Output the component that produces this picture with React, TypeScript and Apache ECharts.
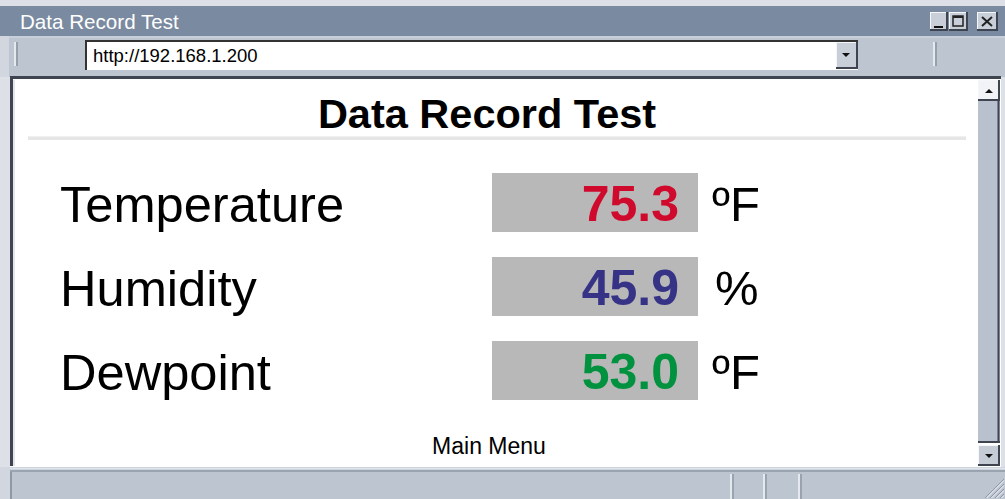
import React, { useEffect, useRef } from 'react';
import * as echarts from 'echarts';

// ---- content data ----
const windowTitle = 'Data Record Test';
const pageTitle = 'Data Record Test';
const url = 'http://192.168.1.200';
const labels = ['Temperature', 'Humidity', 'Dewpoint'];
const values = [75.3, 45.9, 53.0];
const units = ['ºF', '%', 'ºF'];
const valueColors = ['#CF0A2C', '#363387', '#00923F'];
const footerLink = 'Main Menu';
const statusSeparators = [731, 764, 799];

const W = 1005;
const H = 499;
const FONT = '"Liberation Sans", Arial, Helvetica, sans-serif';

const DARK = '#3E4550';
const BAR = '#BDC5D1';

function rect(x: number, y: number, w: number, h: number, fill: string, z = 1): any {
  return { type: 'rect', z, shape: { x, y, width: w, height: h }, style: { fill } };
}
function line(x1: number, y1: number, x2: number, y2: number, stroke: string, lw = 1, z = 2): any {
  return { type: 'line', z, shape: { x1, y1, x2, y2 }, style: { stroke, lineWidth: lw } };
}
function text(t: string, x: number, y: number, size: number, fill: string, align = 'left', weight = 'normal', z = 5): any {
  return {
    type: 'text', z, x, y,
    style: {
      text: t, fill, fontSize: size, fontFamily: FONT, fontWeight: weight,
      textAlign: align, textVerticalAlign: 'middle',
    },
  };
}
function tri(cx: number, cy: number, down: boolean, z = 4): any {
  const h = 4, w = 4;
  const pts = down
    ? [[cx - w, cy - h / 2], [cx + w, cy - h / 2], [cx, cy + h / 2]]
    : [[cx - w, cy + h / 2], [cx + w, cy + h / 2], [cx, cy - h / 2]];
  return { type: 'polygon', z, shape: { points: pts }, style: { fill: '#111' } };
}
function button(x: number, y: number, w: number, h: number, fill: string): any[] {
  return [
    rect(x, y, w, h, fill, 3),
    line(x, y + 0.5, x + w, y + 0.5, '#F4F6F9', 1, 4),
    line(x + 0.5, y, x + 0.5, y + h, '#F4F6F9', 1, 4),
    line(x + w - 1, y, x + w - 1, y + h, DARK, 2, 4),
    line(x, y + h - 1, x + w, y + h - 1, DARK, 2, 4),
  ];
}

function buildGraphics(): any[] {
  const g: any[] = [];
  // page background
  g.push(rect(0, 0, W, H, '#DDE1E7', 0));
  // title bar
  g.push(rect(0, 6, W, 30, '#7A8AA0', 1));
  g.push(text(windowTitle, 20, 21, 20.6, '#FFFFFF'));
  // window buttons
  g.push(...button(930, 12, 18, 19, '#C9CFD8'));
  g.push(line(934, 27, 943, 27, '#111', 2, 5));
  g.push(...button(949, 12, 19, 19, '#C9CFD8'));
  g.push({ type: 'rect', z: 5, shape: { x: 953, y: 16, width: 10, height: 10 }, style: { fill: 'none', stroke: '#222', lineWidth: 1.5 } });
  g.push(line(953, 17, 963, 17, '#222', 2, 5));
  g.push(...button(977, 12, 21, 19, '#C9CFD8'));
  g.push(line(982, 17, 992, 26, '#222', 2, 5));
  g.push(line(992, 17, 982, 26, '#222', 2, 5));

  // toolbar
  g.push(rect(0, 36, W, 41, BAR, 1));
  g.push(line(0, 37, W, 37, '#D3D9E2', 1, 2));
  g.push(rect(0, 36, 9, 41, '#D2D7DF', 2));
  // left groove
  g.push(line(15, 42, 15, 66, '#F2F4F7', 1.5, 3));
  g.push(line(17, 42, 17, 66, '#8A93A0', 1.5, 3));
  // address box
  g.push(rect(85, 40, 773, 30, '#FFFFFF', 3));
  g.push(line(86, 40, 86, 70, '#333', 2, 4));
  g.push(line(85, 41, 858, 41, '#333', 2, 4));
  g.push(text(url, 93, 55, 18.5, '#000000'));
  g.push(...button(836, 42, 22, 27, '#C9CFD8'));
  g.push(tri(846, 55, true, 6));
  // right groove
  g.push(line(934, 42, 934, 66, '#F2F4F7', 1.5, 3));
  g.push(line(936, 42, 936, 66, '#8A93A0', 1.5, 3));

  // content frame
  g.push(rect(10, 76, 991, 392, '#FFFFFF', 1));
  g.push(line(10, 77.5, 1001, 77.5, DARK, 3, 3));
  g.push(line(11.5, 76, 11.5, 466, DARK, 3, 3));
  g.push(line(14, 80, 14, 466, '#C8CDD4', 1, 3));

  // scrollbar
  g.push(rect(978, 101, 22, 342, '#B9C1CE', 2));
  g.push(line(998.5, 101, 998.5, 443, DARK, 2, 3));
  g.push(line(978, 442, 1000, 442, DARK, 2, 3));
  g.push(...button(978, 80, 22, 21, '#F1F3F6'));
  g.push(tri(989, 91, false, 6));
  g.push(...button(978, 445, 22, 21, '#C5CCD6'));
  g.push(tri(989, 456, true, 6));

  // status bar
  g.push(rect(0, 467, W, 32, BAR, 1));
  g.push(line(0, 468.5, W, 468.5, '#E0E5EC', 2, 2));
  g.push(line(0, 471, W, 471, '#8F98A6', 1.5, 2));
  g.push(rect(0, 467, 10, 32, '#D2D7DF', 2));
  g.push(line(11, 472, 11, 499, '#8F98A6', 2, 3));
  statusSeparators.forEach((sx) => {
    g.push(line(sx, 474, sx, 499, '#F2F4F7', 1.5, 3));
    g.push(line(sx + 2, 474, sx + 2, 499, '#8F98A6', 1.5, 3));
  });
  // resize grip
  for (let i = 0; i < 4; i++) {
    const o = 5 + i * 5;
    g.push(line(W - o, H - 1, W - 1, H - o, '#8F98A6', 1, 3));
    g.push(line(W - o + 1.5, H - 1, W - 1, H - o + 1.5, '#F2F4F7', 1, 3));
  }

  // page content
  g.push(text(pageTitle, 487, 113, 41.5, '#000000', 'center', 'bold'));
  g.push(rect(28, 136, 938, 4, '#E6E6E6', 3));
  g.push(line(28, 136.5, 966, 136.5, '#F0F0F0', 1, 4));

  const rowTop = 173;
  const rowStep = 84;
  const boxH = 59;
  labels.forEach((lab, i) => {
    const top = rowTop + i * rowStep;
    const cy = top + boxH / 2 + 1.5;
    g.push(text(lab, 60, cy, 50.6, '#000000'));
    g.push(rect(492, top, 206, boxH, '#B8B8B8', 3));
    g.push(text(values[i].toFixed(1), 679, cy, 50, valueColors[i], 'right', 'bold'));
    g.push(text(units[i], units[i] === '%' ? 715 : 712, cy, 49, '#000000'));
  });

  g.push(text(footerLink, 489, 446, 23, '#000000', 'center'));
  return g;
}

export default function App() {
  const ref = useRef<HTMLDivElement>(null);
  useEffect(() => {
    document.body.style.margin = '0';
    if (!ref.current) return;
    const chart = echarts.init(ref.current, undefined, { renderer: 'svg', width: W, height: H });
    chart.setOption({
      animation: false,
      backgroundColor: '#FFFFFF',
      graphic: { elements: buildGraphics() },
    });
    return () => chart.dispose();
  }, []);
  return <div ref={ref} style={{ position: 'absolute', left: 0, top: 0, width: W, height: H }} />;
}
